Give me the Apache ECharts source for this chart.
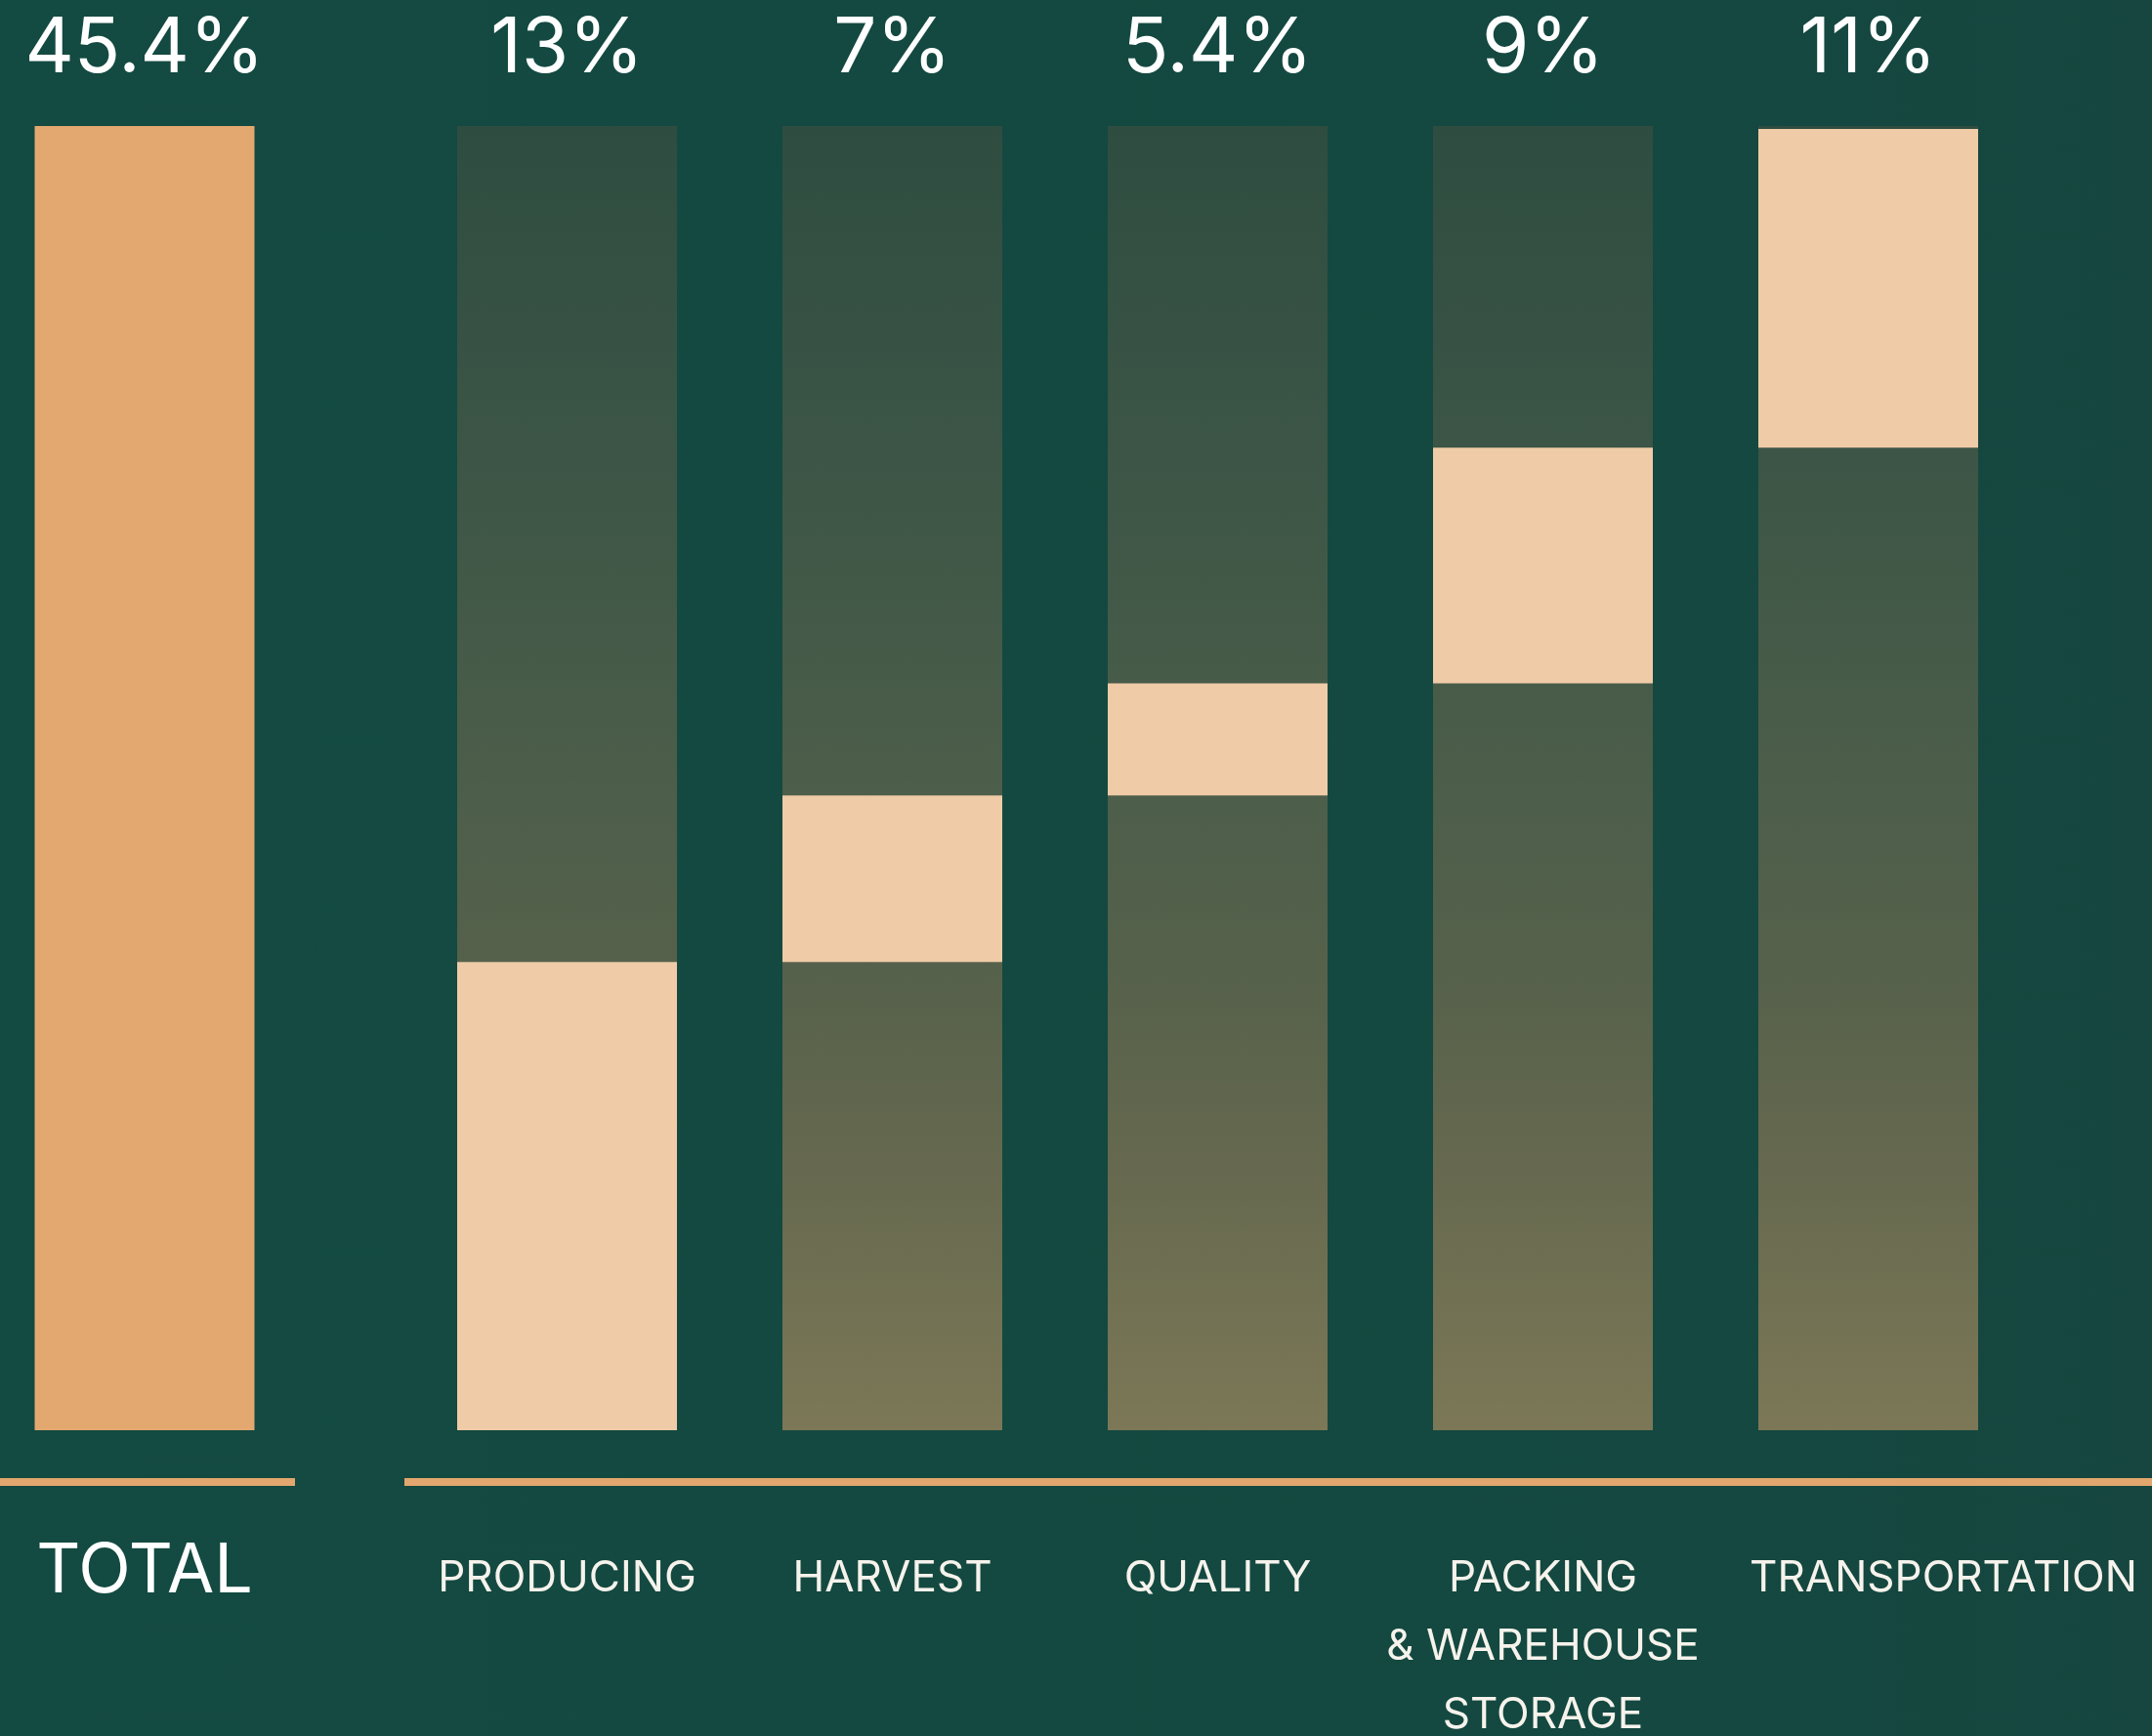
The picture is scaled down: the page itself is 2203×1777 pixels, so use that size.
<!DOCTYPE html>
<html>
<head>
<meta charset="utf-8">
<script src="https://cdn.jsdelivr.net/npm/echarts@6/dist/echarts.min.js"></script>
<style>
  html, body { margin: 0; padding: 0; background: #134a41; }
  #chart { width: 2203px; height: 1777px; }
</style>
</head>
<body>
<div id="chart"></div>
<script>
// ===== data =====
const totalName = ['TOTAL']
const totalShare = [45.4]

const stageNames = ['PRODUCING', 'HARVEST', 'QUALITY', 'PACKING\n& WAREHOUSE\nSTORAGE', 'TRANSPORTATION']
const stageShare = [13, 7, 5.4, 9, 11]           // printed above each column
const columnHeight = [45.4, 45.4, 45.4, 45.4, 45.4] // every column is drawn as tall as the total
// where the light block sits on each column (same units as the total)
const blockLow = [0, 16.3, 22.1, 26.0, 34.2]
const blockHigh = [16.3, 22.1, 26.0, 34.2, 45.3]

// ===== style =====
const FONT = 'Inter'
const PEACH = '#efcba7'
const ORANGE = '#e3a870'
const LINE = '#e2a76e'
const BAR_W = 225

const columnFill = new echarts.graphic.LinearGradient(0, 0, 0, 1, [
  { offset: 0, color: '#2e4d40' },
  { offset: 0.25, color: '#3c5546' },
  { offset: 0.5, color: '#4c5e4a' },
  { offset: 0.65, color: '#56614b' },
  { offset: 0.8, color: '#66694f' },
  { offset: 1, color: '#7c7857' },
])

const topLabel = {
  show: true,
  position: 'top',
  distance: 39,
  color: '#ffffff',
  fontFamily: FONT,
  fontSize: 78,
  lineHeight: 78,
}

const chart = echarts.init(document.getElementById('chart'), null, { renderer: 'canvas' })

chart.setOption({
  backgroundColor: new echarts.graphic.LinearGradient(0, 0, 1, 0, [
    { offset: 0, color: '#134a41' },
    { offset: 0.8, color: '#144840' },
    { offset: 1, color: '#16463f' },
  ]),
  animation: false,
  grid: [
    { left: -6, top: 129, width: 308, height: 1335, outerBoundsMode: 'none', containLabel: false },
    { left: 414, top: 129, width: 1665, height: 1335, outerBoundsMode: 'none', containLabel: false },
  ],
  xAxis: [
    {
      gridIndex: 0,
      type: 'category',
      data: totalName,
      offset: 53,
      axisLine: { onZero: false, lineStyle: { color: LINE, width: 8, cap: 'butt' } },
      axisTick: { show: false },
      axisLabel: {
        interval: 0, margin: 56, color: '#ffffff',
        fontFamily: FONT, fontSize: 70, lineHeight: 72,
      },
    },
    {
      gridIndex: 1,
      type: 'category',
      data: stageNames,
      offset: 53,
      axisLine: { onZero: false, lineStyle: { color: LINE, width: 8, cap: 'butt' } },
      axisTick: { show: false },
      axisLabel: {
        interval: 0, margin: 64, color: '#f6f3ec',
        fontFamily: FONT, fontSize: 44, lineHeight: 70,
        formatter: (v, i) => i === stageNames.length - 1 ? `{shift|${v}}` : v,
        rich: {
          shift: {
            color: '#f6f3ec', fontFamily: FONT, fontSize: 44, lineHeight: 70,
            padding: [0, 0, 0, 154],
          },
        },
      },
    },
  ],
  yAxis: [
    { gridIndex: 0, type: 'value', min: 0, max: 45.4, show: false },
    { gridIndex: 1, type: 'value', min: 0, max: 45.4, show: false },
  ],
  graphic: [
    // baseline keeps running to the right edge past the last column slot
    {
      type: 'rect', z: 0,
      shape: { x: 2079, y: 1513, width: 124, height: 8 },
      style: { fill: LINE },
    },
  ],
  series: [
    {
      name: 'total',
      type: 'bar',
      xAxisIndex: 0,
      yAxisIndex: 0,
      data: totalShare,
      barWidth: BAR_W,
      itemStyle: { color: ORANGE },
      label: { ...topLabel, formatter: (p) => `${p.value}%` },
    },
    {
      name: 'column',
      type: 'bar',
      xAxisIndex: 1,
      yAxisIndex: 1,
      data: columnHeight,
      barWidth: BAR_W,
      barGap: '-100%',
      itemStyle: { color: columnFill },
      label: { ...topLabel, formatter: (p) => `${stageShare[p.dataIndex]}%` },
    },
    {
      name: 'offset',
      type: 'bar',
      xAxisIndex: 1,
      yAxisIndex: 1,
      stack: 'block',
      data: blockLow,
      barWidth: BAR_W,
      barGap: '-100%',
      silent: true,
      itemStyle: { color: 'rgba(0,0,0,0)' },
    },
    {
      name: 'block',
      type: 'bar',
      xAxisIndex: 1,
      yAxisIndex: 1,
      stack: 'block',
      data: blockHigh.map((h, i) => +(h - blockLow[i]).toFixed(2)),
      barWidth: BAR_W,
      barGap: '-100%',
      itemStyle: { color: PEACH },
    },
  ],
})
</script>
</body>
</html>
